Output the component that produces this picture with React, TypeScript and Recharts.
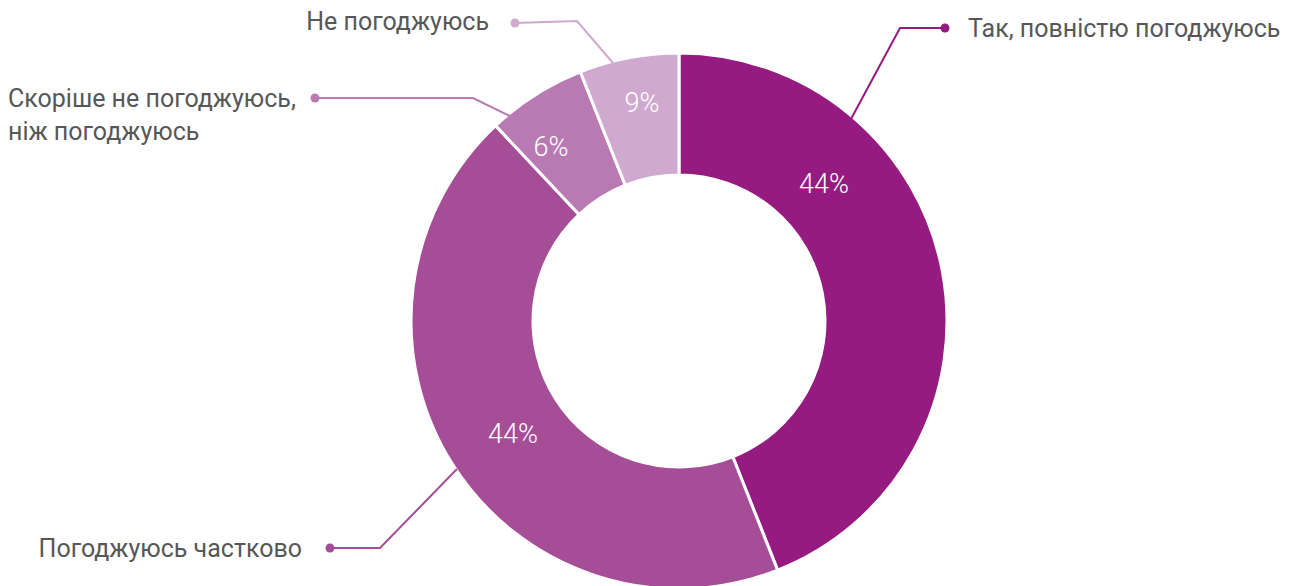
import { PieChart, Pie, Cell } from 'recharts'

const categories = [
  'Так, повністю погоджуюсь',
  'Погоджуюсь частково',
  'Скоріше не погоджуюсь, ніж погоджуюсь',
  'Не погоджуюсь',
]
const values = [44, 44, 6, 6]
const valueLabels = ['44%', '44%', '6%', '9%']

const colors = ['#951B81', '#A64D97', '#B97AB3', '#D0A9D0']

// per-slice label layout, offsets from the pie centre
const layout = [
  { pct: [145, -137], line: [[172, -202], [221, -293], [266, -293]], text: [289, -293], anchor: 'start', lines: ['Так, повністю погоджуюсь'] },
  { pct: [-166, 113], line: [[-222, 148], [-299, 227], [-349, 227]], text: [-377, 227], anchor: 'end', lines: ['Погоджуюсь частково'] },
  { pct: [-128, -174], line: [[-169, -205], [-206, -223], [-364, -223]], text: [-671, -223], anchor: 'start', lines: ['Скоріше не погоджуюсь,', 'ніж погоджуюсь'] },
  { pct: [-37, -218], line: [[-66, -258], [-102, -300], [-164, -298]], text: [-190, -300], anchor: 'end', lines: ['Не погоджуюсь'] },
]

const data = categories.map((name, i) => ({ name, value: values[i], label: valueLabels[i] }))

const FONT = 'Roboto, "Open Sans", sans-serif'

function renderLabel(props: any) {
  const { cx, cy, index } = props
  const l = layout[index]
  const pts = l.line.map(([x, y]) => `${cx + x},${cy + y}`).join(' ')
  const end = l.line[l.line.length - 1]
  return (
    <g key={`lbl-${index}`}>
      <text
        x={cx + l.pct[0]}
        y={cy + l.pct[1]}
        fill="#fff"
        fontSize={27}
        fontWeight={300}
        fontFamily={FONT}
        textAnchor="middle"
        dominantBaseline="central"
      >
        {data[index].label}
      </text>
      <polyline points={pts} fill="none" stroke={colors[index]} strokeWidth={2} />
      <circle cx={cx + end[0]} cy={cy + end[1]} r={4.5} fill={colors[index]} />
      {l.lines.map((s, j) => (
        <text
          key={j}
          x={cx + l.text[0]}
          y={cy + l.text[1] + j * 33}
          fill="#575757"
          fontSize={25}
          fontFamily={FONT}
          textAnchor={l.anchor as any}
          dominantBaseline="central"
        >
          {s}
        </text>
      ))}
    </g>
  )
}

export default function App() {
  return (
    <div style={{ position: 'absolute', left: 0, top: 0, width: 1295, height: 586, background: '#fff' }}>
      <PieChart width={1295} height={586} margin={{ top: 0, right: 0, bottom: 0, left: 0 }}>
        <Pie
          data={data}
          dataKey="value"
          nameKey="name"
          cx={679}
          cy={321}
          innerRadius={146}
          outerRadius={268}
          startAngle={90}
          endAngle={-270}
          stroke="#fff"
          strokeWidth={3}
          label={renderLabel}
          labelLine={false}
          isAnimationActive={false}
        >
          {data.map((d, i) => (
            <Cell key={d.name} fill={colors[i]} />
          ))}
        </Pie>
      </PieChart>
    </div>
  )
}
